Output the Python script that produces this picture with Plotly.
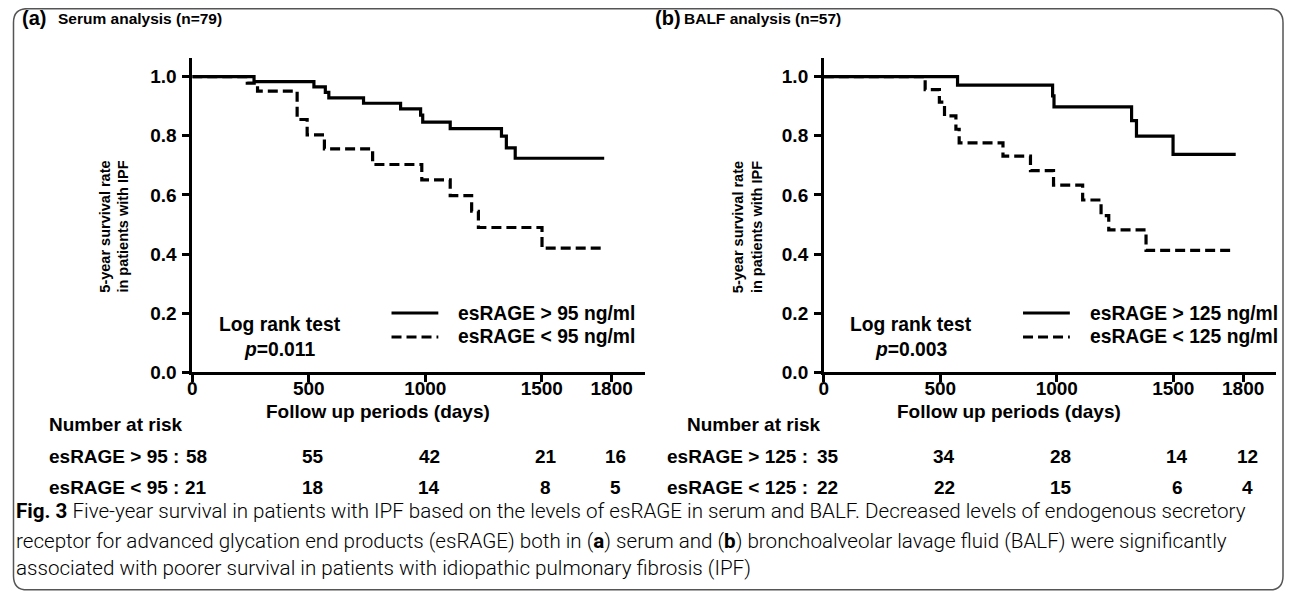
import plotly.graph_objects as go

# ---------------- data ----------------
# (a) Serum analysis
a_hi_days = [0, 265, 522, 571, 586, 735, 894, 980, 989, 1107, 1327, 1348, 1386, 1768]
a_hi_surv = [1.0, 0.983, 0.965, 0.947, 0.928, 0.910, 0.891, 0.870, 0.846, 0.824, 0.799, 0.759, 0.724, 0.724]
a_lo_days = [0, 236, 280, 450, 493, 567, 774, 985, 1107, 1199, 1228, 1501, 1760]
a_lo_surv = [1.0, 0.978, 0.951, 0.855, 0.803, 0.756, 0.703, 0.651, 0.598, 0.545, 0.490, 0.420, 0.420]
# (b) BALF analysis
b_hi_days = [0, 574, 982, 988, 1321, 1342, 1499, 1768]
b_hi_surv = [1.0, 0.971, 0.935, 0.898, 0.851, 0.799, 0.737, 0.737]
b_lo_days = [0, 435, 496, 518, 567, 581, 769, 887, 986, 1111, 1190, 1223, 1383, 1744]
b_lo_surv = [1.0, 0.956, 0.914, 0.867, 0.822, 0.776, 0.731, 0.682, 0.633, 0.583, 0.530, 0.482, 0.413, 0.413]

x_ticks = [0, 500, 1000, 1500, 1800]
y_ticks = [0.0, 0.2, 0.4, 0.6, 0.8, 1.0]

a_risk_hi = [58, 55, 42, 21, 16]
a_risk_lo = [21, 18, 14, 8, 5]
b_risk_hi = [35, 34, 28, 14, 12]
b_risk_lo = [22, 22, 15, 6, 4]

a_labels = ["esRAGE > 95 ng/ml", "esRAGE < 95 ng/ml"]
b_labels = ["esRAGE > 125 ng/ml", "esRAGE < 125 ng/ml"]
a_row_labels = ["esRAGE > 95 :", "esRAGE < 95 :"]
b_row_labels = ["esRAGE > 125 :", "esRAGE < 125 :"]
a_p = "0.011"
b_p = "0.003"

# ---------------- layout helpers ----------------
# positions below are given in target picture pixels; the page keeps the
# browser's default 8px body margin and the capture is slightly squeezed
# vertically, which KY compensates.
OFF = 8
KY = 0.982
W, H = 1292 - 2 * OFF, 596
FONT = "Liberation Sans, Arial, sans-serif"
CAPFONT = "Roboto, Liberation Sans, sans-serif"


def px(x):
    return min(1.0, max(0.0, (x - OFF) / W))


def py(y):
    return min(1.0, max(0.0, 1 - (y / KY - OFF) / H))


DASH = "10px,5px"
LW = 3.2
X_MAX = 1941
AX_LEN = 454

fig = go.Figure()

panels = [
    dict(xa="x", ya="y", hi=(a_hi_days, a_hi_surv), lo=(a_lo_days, a_lo_surv),
         x0=188, labels=a_labels, rows=a_row_labels, risk=(a_risk_hi, a_risk_lo), p=a_p,
         nar_x=42, row_x=42, yt_x=109),
    dict(xa="x2", ya="y2", hi=(b_hi_days, b_hi_surv), lo=(b_lo_days, b_lo_surv),
         x0=822, labels=b_labels, rows=b_row_labels, risk=(b_risk_hi, b_risk_lo), p=b_p,
         nar_x=683, row_x=663, yt_x=745),
]

for pn in panels:
    fig.add_trace(go.Scatter(x=pn["hi"][0], y=pn["hi"][1], mode="lines", line_shape="hv",
                             line=dict(color="black", width=LW), xaxis=pn["xa"], yaxis=pn["ya"],
                             showlegend=False, name=pn["labels"][0]))
    fig.add_trace(go.Scatter(x=pn["lo"][0], y=pn["lo"][1], mode="lines", line_shape="hv",
                             line=dict(color="black", width=LW, dash=DASH), xaxis=pn["xa"],
                             yaxis=pn["ya"], showlegend=False, name=pn["labels"][1]))

y_dom = [py(372.5), py(58)]
axis_common = dict(showline=True, linecolor="black", linewidth=2.6, ticks="outside",
                   ticklen=7, tickwidth=2.6, tickcolor="black", showgrid=False, zeroline=False,
                   tickfont=dict(family=FONT, size=19, color="black", weight="bold"))

fig.update_layout(
    width=W, height=H, margin=dict(l=0, r=0, t=0, b=0),
    paper_bgcolor="white", plot_bgcolor="white", showlegend=False,
    xaxis=dict(domain=[px(188), px(188 + AX_LEN)], range=[0, X_MAX], tickvals=x_ticks,
               anchor="y", ticklabelstandoff=-10, **axis_common),
    yaxis=dict(domain=y_dom, range=[0, 1.0625], tickvals=y_ticks, tickformat=".1f",
               anchor="x", ticklabelstandoff=2, **axis_common),
    xaxis2=dict(domain=[px(822), px(822 + AX_LEN)], range=[0, X_MAX], tickvals=x_ticks,
                anchor="y2", ticklabelstandoff=-10, **axis_common),
    yaxis2=dict(domain=y_dom, range=[0, 1.0625], tickvals=y_ticks, tickformat=".1f",
                anchor="x2", ticklabelstandoff=2, **axis_common),
)

ann = []
shapes = []


def text(x, y, s, size=19, bold=True, xanchor="center", family=FONT, weight=None, **kw):
    w = weight if weight is not None else ("bold" if bold else "normal")
    ann.append(dict(x=px(x), y=py(y), xref="paper", yref="paper", text=s, showarrow=False,
                    xanchor=xanchor, yanchor="middle",
                    font=dict(family=family, size=size, color="black", weight=w), **kw))


# panel titles
text(15, 18, "(a)", size=20, xanchor="left")
text(51, 18, "Serum analysis (n=79)", size=15.5, xanchor="left")
text(651, 18, "(b)", size=20, xanchor="left")
text(680, 18, "BALF analysis (n=57)", size=15.5, xanchor="left")

for pn in panels:
    x0 = pn["x0"]
    # y axis title
    ann.append(dict(x=px(pn["yt_x"]), y=py(227), xref="paper", yref="paper",
                    text="5-year survival rate<br>in patients with IPF", showarrow=False,
                    textangle=-90, xanchor="center", yanchor="middle",
                    font=dict(family=FONT, size=14.5, color="black", weight="bold")))
    # x axis title
    text(x0 + 186, 412, "Follow up periods (days)", size=19)
    # log-rank
    text(x0 + 88, 325, "Log rank test", size=19.3)
    text(x0 + 88, 350, "<i>p</i>=" + pn["p"], size=19.3)
    # legend
    lx = x0 + 200
    for i, (lab, dash) in enumerate(zip(pn["labels"], ["solid", DASH])):
        yy = 313 + 24 * i
        shapes.append(dict(type="line", xref="paper", yref="paper", x0=px(lx), x1=px(lx + 47),
                           y0=py(yy), y1=py(yy), line=dict(color="black", width=LW, dash=dash)))
        text(lx + 65, yy, lab, size=19.3, xanchor="left")
    # number at risk
    text(pn["nar_x"], 425, "Number at risk", size=19, xanchor="left")
    for r, (rl, vals) in enumerate(zip(pn["rows"], pn["risk"])):
        yy = 457 + 31 * r
        text(pn["row_x"], yy, rl, size=19, xanchor="left")
        for t, v in zip(x_ticks, vals):
            ann.append(dict(x=t, y=py(yy), xref=pn["xa"], yref="paper", text=str(v),
                            showarrow=False, xanchor="center", yanchor="middle", xshift=4,
                            font=dict(family=FONT, size=19, color="black", weight="bold")))

# caption
cap1 = ("<b>Fig. 3</b> Five-year survival in patients with IPF based on the levels of esRAGE in serum "
        "and BALF. Decreased levels of endogenous secretory")
cap2 = ("receptor for advanced glycation end products (esRAGE) both in (<b>a</b>) serum and (<b>b</b>) "
        "bronchoalveolar lavage fluid (BALF) were significantly")
cap3 = "associated with poorer survival in patients with idiopathic pulmonary fibrosis (IPF)"
for yy, s in zip([511, 541, 568], [cap1, cap2, cap3]):
    text(9, yy, s, size=20.6, xanchor="left", family=CAPFONT, weight=300)

# frame
r = 14
xl, xr, yt, yb = 8.5, 1283, 8.5, 590
shapes.append(dict(type="path", xref="paper", yref="paper",
                   path=(f"M {px(xl)},{py(yt + r)} Q {px(xl)},{py(yt)} {px(xl + r)},{py(yt)} "
                         f"L {px(xr - r)},{py(yt)} Q {px(xr)},{py(yt)} {px(xr)},{py(yt + r)} "
                         f"L {px(xr)},{py(yb - r)} Q {px(xr)},{py(yb)} {px(xr - r)},{py(yb)} "
                         f"L {px(xl + r)},{py(yb)} Q {px(xl)},{py(yb)} {px(xl)},{py(yb - r)} Z"),
                   line=dict(color="#555", width=1.5)))

fig.update_layout(annotations=ann, shapes=shapes)
fig.write_html("out.html", config={"displayModeBar": False})
